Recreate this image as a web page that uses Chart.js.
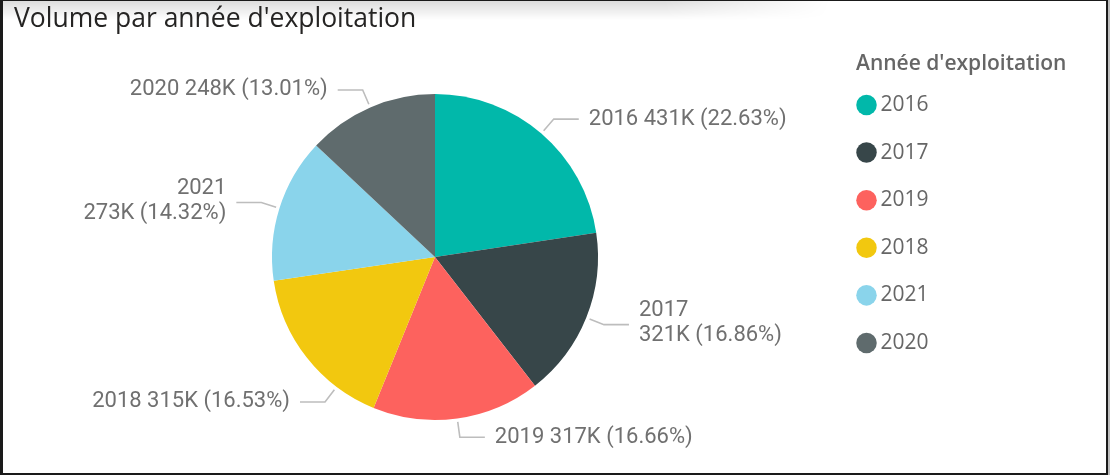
<!DOCTYPE html>
<html><head><meta charset="utf-8">
<script src="https://cdn.jsdelivr.net/npm/chart.js@4"></script>
<style>
html,body{margin:0;padding:0;background:#fff;}
#wrap{position:relative;width:1112px;height:475px;overflow:hidden;}
canvas{position:absolute;left:0;top:0;}
#shade{position:absolute;left:0;top:0;width:830px;height:20px;background:linear-gradient(to bottom, rgba(0,0,0,0.14), rgba(0,0,0,0));-webkit-mask-image:linear-gradient(to right,#000 80%,transparent);mask-image:linear-gradient(to right,#000 80%,transparent);}
#frame{position:absolute;left:0;top:0;width:1108px;height:475px;box-sizing:border-box;border:2px solid #1a1a1a;border-left-width:3px;border-top-width:1px;}
#edge{position:absolute;left:1108px;top:0;width:2px;height:475px;background:#bdbdbd;}
</style></head>
<body><div id="wrap"><div id="shade"></div><canvas id="c" width="1112" height="475"></canvas><div id="frame"></div><div id="edge"></div></div>
<script>
const titleText = "Volume par année d'exploitation";
const legendTitle = "Année d'exploitation";
const years = ['2016', '2017', '2019', '2018', '2021', '2020'];
const volumesK = [431.2, 321.2, 317.4, 314.9, 272.8, 247.8];
const sliceColors = ['#01B8AA', '#374649', '#FD625E', '#F2C80F', '#8AD4EB', '#5F6B6D'];

const leaderLabels = {
  id: 'leaderLabels',
  afterDatasetsDraw(chart, args, opts) {
    const ctx = chart.ctx;
    const meta = chart.getDatasetMeta(0);
    const data = chart.data.datasets[0].data;
    const total = data.reduce((a, b) => a + b, 0);
    ctx.save();
    ctx.font = opts.font;
    meta.data.forEach((arc, i) => {
      const p = arc.getProps(['x', 'y', 'startAngle', 'endAngle', 'outerRadius'], true);
      const mid = (p.startAngle + p.endAngle) / 2 + ((opts.nudge[i] || 0) * Math.PI / 180);
      const cos = Math.cos(mid), sin = Math.sin(mid);
      const r0 = p.outerRadius + opts.gapIn, r1 = p.outerRadius + opts.elbow;
      const ax = p.x + cos * r0, ay = p.y + sin * r0;
      const ex = p.x + cos * r1, ey = p.y + sin * r1;
      const right = cos >= 0;
      const hx = ex + (right ? opts.run : -opts.run);
      ctx.strokeStyle = opts.lineColor;
      ctx.lineWidth = opts.lineWidth;
      ctx.beginPath(); ctx.moveTo(ax, ay); ctx.lineTo(ex, ey); ctx.lineTo(hx, ey); ctx.stroke();
      const tx = hx + (right ? opts.textGap : -opts.textGap);
      ctx.textAlign = right ? 'left' : 'right';
      ctx.textBaseline = 'middle';
      ctx.fillStyle = opts.color;
      const cat = chart.data.labels[i];
      const val = Math.round(data[i]) + 'K (' + (data[i] / total * 100).toFixed(2) + '%)';
      if (Math.abs(cos) > 0.9) {
        ctx.fillText(cat, tx, ey - 14.5);
        ctx.fillText(val, tx, ey + 11);
      } else {
        ctx.fillText(cat + ' ' + val, tx, ey);
      }
    });
    ctx.restore();
  }
};

// let the legend box be wide enough for its title (avoids clipping)
const legendMinWidth = {
  id: 'legendMinWidth',
  beforeLayout(chart, args, opts) {
    const lg = chart.legend;
    if (lg && !lg._minPatched) {
      const fit = lg.fit;
      lg.fit = function () { fit.call(this); this.width = Math.max(this.width, opts.width); };
      lg._minPatched = true;
    }
  }
};

new Chart(document.getElementById('c'), {
  type: 'pie',
  data: {
    labels: years,
    datasets: [{ data: volumesK, backgroundColor: sliceColors, borderWidth: 0 }]
  },
  options: {
    responsive: false,
    animation: false,
    devicePixelRatio: 1,
    radius: 163,
    layout: { padding: { left: 14, right: 30, top: 0, bottom: 1 } },
    plugins: {
      tooltip: { enabled: false },
      title: {
        display: true, text: titleText, align: 'start', color: '#252423',
        font: { family: "'Segoe UI', 'Open Sans', sans-serif", size: 26.5, weight: 'normal', lineHeight: 1.2 },
        padding: { top: 4, bottom: 4.2 }
      },
      legend: {
        position: 'right', align: 'start',
        title: {
          display: true, text: legendTitle, color: '#666666', position: 'start',
          font: { family: "'Segoe UI', 'Open Sans', sans-serif", size: 21, weight: '600', lineHeight: 1.2 },
          padding: { top: 53.5, bottom: 8.8 }
        },
        labels: {
          color: '#666666', usePointStyle: true, pointStyle: 'circle',
          boxWidth: 7, boxHeight: 14.5, padding: 7,
          font: { family: "'Segoe UI', 'Open Sans', sans-serif", size: 21, lineHeight: 1.933 },
          generateLabels(chart) {
            const items = Chart.overrides.pie.plugins.legend.labels.generateLabels(chart);
            items.forEach(it => { it.text = [it.text]; it.lineWidth = 0; });
            return items;
          }
        }
      },
      legendMinWidth: { width: 226 },
      leaderLabels: {
        font: "22px Roboto", color: '#707070', lineColor: '#bdbdbd', lineWidth: 1.6,
        gapIn: 3.5, elbow: 19, run: 25, textGap: 10, nudge: { 3: -14.7 }
      }
    }
  },
  plugins: [leaderLabels, legendMinWidth]
});
</script>
</body></html>
